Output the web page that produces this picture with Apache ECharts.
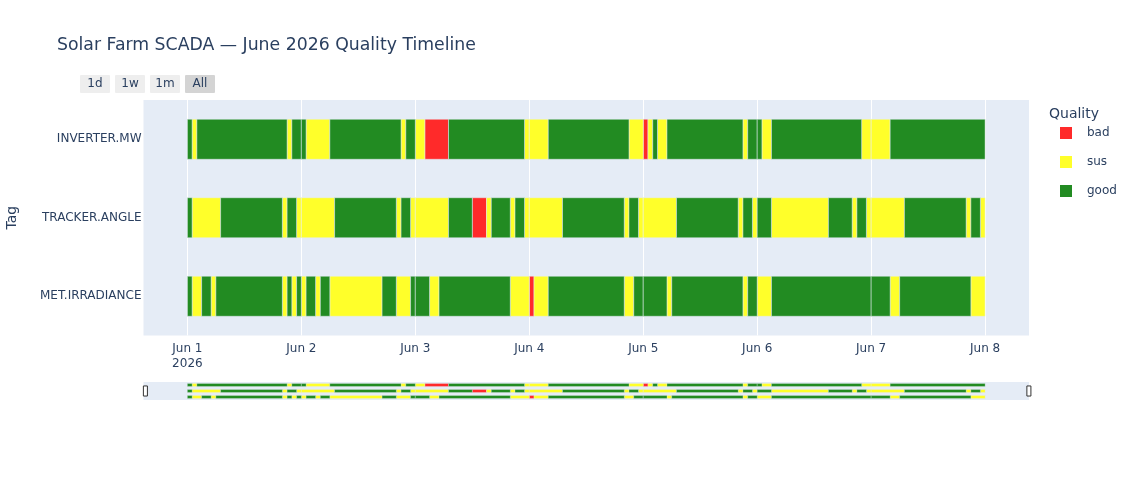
<!DOCTYPE html>
<html>
<head>
<meta charset="utf-8">
<title>Solar Farm SCADA — June 2026 Quality Timeline</title>
<script src="https://cdn.jsdelivr.net/npm/echarts@6/dist/echarts.min.js"></script>
<style>
  html, body { margin: 0; padding: 0; background: #fff; }
  #chart { width: 1133px; height: 480px; }
</style>
</head>
<body>
<div id="chart"></div>
<script>
const FONT = '"DejaVu Sans", Verdana, Arial, sans-serif';
const INK = '#2a3f5f';

const tags = ['INVERTER.MW', 'TRACKER.ANGLE', 'MET.IRRADIANCE'];
const qualities = ['bad', 'sus', 'good'];
const qualityColors = { bad: '#ff2a2a', sus: '#ffff2a', good: '#228b22' };

// segment edges in hours since 2026-06-01 00:00, one quality per segment
const inverterEdges = [0, 1, 2, 21, 22, 25, 30, 45, 46, 48, 50, 55, 71, 76, 93, 96, 97, 98, 99, 101, 117, 118, 121, 123, 142, 148, 168];
const inverterQuality = ['good', 'sus', 'good', 'sus', 'good', 'sus', 'good', 'sus', 'good', 'sus', 'bad', 'good', 'sus',
  'good', 'sus', 'bad', 'sus', 'good', 'sus', 'good', 'sus', 'good', 'sus', 'good', 'sus', 'good'];

const trackerEdges = [0, 1, 7, 20, 21, 23, 31, 44, 45, 47, 55, 60, 63, 64, 68, 69, 71, 79, 92, 93, 95, 103, 116, 117, 119, 120,
  123, 135, 140, 141, 143, 151, 164, 165, 167, 168];
const trackerQuality = ['good', 'sus', 'good', 'sus', 'good', 'sus', 'good', 'sus', 'good', 'sus', 'good', 'bad', 'sus',
  'good', 'sus', 'good', 'sus', 'good', 'sus', 'good', 'sus', 'good', 'sus', 'good', 'sus', 'good', 'sus', 'good', 'sus',
  'good', 'sus', 'good', 'sus', 'good', 'sus'];

const metEdges = [0, 1, 3, 5, 6, 20, 21, 22, 23, 24, 25, 27, 28, 30, 41, 44, 47, 51, 53, 68, 72, 73, 76, 92, 94, 101, 102,
  117, 118, 120, 123, 148, 150, 165, 168];
const metQuality = ['good', 'sus', 'good', 'sus', 'good', 'sus', 'good', 'sus', 'good', 'sus', 'good', 'sus', 'good', 'sus',
  'good', 'sus', 'good', 'sus', 'good', 'sus', 'bad', 'sus', 'good', 'sus', 'good', 'sus', 'good', 'sus', 'good', 'sus',
  'good', 'sus', 'good', 'sus'];

const dayTicks = [0, 24, 48, 72, 96, 120, 144, 168];
const dayLabels = ['Jun 1\n2026', 'Jun 2', 'Jun 3', 'Jun 4', 'Jun 5', 'Jun 6', 'Jun 7', 'Jun 8'];
const xMin = -9.24;
const xMax = 177.24;

const rangeButtons = ['1d', '1w', '1m', 'All'];

// rows -> per-quality bar lists, split at midnight like the source export
const rows = [
  [inverterEdges, inverterQuality],
  [trackerEdges, trackerQuality],
  [metEdges, metQuality]
];
const bars = { bad: [], sus: [], good: [] };
rows.forEach(([edges, quality], row) => {
  for (let i = 0; i < quality.length; i++) {
    let start = edges[i];
    const end = edges[i + 1];
    dayTicks.forEach(d => {
      if (d > start && d < end) {
        bars[quality[i]].push([row, start, d]);
        start = d;
      }
    });
    bars[quality[i]].push([row, start, end]);
  }
});

function barRenderer(ratio, stroke) {
  return function (params, api) {
    const row = api.value(0);
    const a = api.coord([api.value(1), row]);
    const b = api.coord([api.value(2), row]);
    const h = api.size([0, 1])[1] * ratio;
    const shape = echarts.graphic.clipRectByRect(
      { x: a[0], y: a[1] - h / 2, width: b[0] - a[0], height: h },
      { x: params.coordSys.x, y: params.coordSys.y, width: params.coordSys.width, height: params.coordSys.height }
    );
    return shape && {
      type: 'rect',
      shape: shape,
      style: api.style({ stroke: stroke, lineWidth: 0.5 })
    };
  };
}

const chart = echarts.init(document.getElementById('chart'));

const mainSeries = qualities.map(q => ({
  name: q,
  type: 'custom',
  xAxisIndex: 0,
  yAxisIndex: 0,
  renderItem: barRenderer(0.51, '#e5ecf6'),
  itemStyle: { color: qualityColors[q] },
  encode: { x: [1, 2], y: 0 },
  data: bars[q]
}));

const miniSeries = qualities.map(q => ({
  name: q,
  type: 'custom',
  xAxisIndex: 1,
  yAxisIndex: 1,
  silent: true,
  renderItem: barRenderer(0.5, 'rgba(229,236,246,0.6)'),
  itemStyle: { color: qualityColors[q] },
  encode: { x: [1, 2], y: 0 },
  data: bars[q]
}));

const btnX = [80, 115, 150, 185];
const buttons = rangeButtons.map((label, i) => ({
  type: 'group',
  left: btnX[i],
  top: 75,
  onclick: () => {
    const span = { '1d': 24, '1w': 168, '1m': 720 }[label];
    if (!span) chart.dispatchAction({ type: 'dataZoom', dataZoomIndex: 0, start: 0, end: 100 });
    else chart.dispatchAction({ type: 'dataZoom', dataZoomIndex: 0, startValue: Math.max(xMin, 168 - span), endValue: 168 });
  },
  children: [
    {
      type: 'rect',
      shape: { x: 0, y: 0, width: 30, height: 18, r: 1 },
      style: { fill: label === 'All' ? '#d4d4d4' : '#eeeeee' }
    },
    {
      type: 'text',
      x: 15,
      y: 9,
      style: { text: label, fill: INK, font: '12px ' + FONT, align: 'center', verticalAlign: 'middle' }
    }
  ]
}));

chart.setOption({
  backgroundColor: '#fff',
  textStyle: { fontFamily: FONT },
  title: [
    {
      text: 'Solar Farm SCADA — June 2026 Quality Timeline',
      left: 57,
      top: 37,
      padding: 0,
      textStyle: { fontFamily: FONT, fontSize: 17.3, fontWeight: 'normal', color: INK }
    },
    {
      text: 'Quality',
      left: 1049,
      top: 107,
      padding: 0,
      textStyle: { fontFamily: FONT, fontSize: 14, fontWeight: 'normal', color: INK }
    }
  ],
  legend: {
    orient: 'vertical',
    left: 1060,
    top: 127,
    padding: 0,
    icon: 'rect',
    itemWidth: 12,
    itemHeight: 12,
    itemGap: 17,
    data: qualities,
    textStyle: { fontFamily: FONT, fontSize: 12, color: INK, padding: [0, 0, 0, 10] }
  },
  graphic: buttons,
  grid: [
    { left: 143.5, right: 104, top: 100, height: 235.5, show: true, backgroundColor: '#e5ecf6', borderWidth: 0, outerBoundsMode: 'none' },
    { left: 143.5, right: 104, top: 382, height: 18, show: true, backgroundColor: '#e5ecf6', borderWidth: 0, outerBoundsMode: 'none' }
  ],
  xAxis: [
    {
      type: 'value',
      gridIndex: 0,
      min: xMin,
      max: xMax,
      axisLine: { show: false },
      axisTick: { show: false, customValues: dayTicks },
      axisLabel: {
        customValues: dayTicks,
        formatter: v => dayLabels[dayTicks.indexOf(v)] || '',
        color: INK,
        fontSize: 12,
        fontFamily: FONT,
        lineHeight: 15,
        margin: 6
      },
      splitLine: { show: true, lineStyle: { color: '#fff', width: 1 } }
    },
    {
      type: 'value',
      gridIndex: 1,
      min: xMin,
      max: xMax,
      show: false,
      splitLine: { show: false }
    }
  ],
  yAxis: [
    {
      type: 'category',
      gridIndex: 0,
      data: tags,
      inverse: true,
      name: 'Tag',
      nameLocation: 'middle',
      nameGap: 124,
      nameTextStyle: { fontFamily: FONT, fontSize: 14, color: INK },
      axisLine: { show: false },
      axisTick: { show: false },
      splitLine: { show: false },
      axisLabel: { color: INK, fontSize: 12, fontFamily: FONT, margin: 2 }
    },
    {
      type: 'category',
      gridIndex: 1,
      data: tags,
      inverse: true,
      show: false
    }
  ],
  dataZoom: [
    {
      type: 'slider',
      xAxisIndex: 0,
      filterMode: 'none',
      left: 143.5,
      right: 104,
      top: 382,
      height: 18,
      start: 0,
      end: 100,
      showDetail: false,
      showDataShadow: false,
      brushSelect: false,
      backgroundColor: 'rgba(0,0,0,0)',
      borderColor: 'rgba(0,0,0,0)',
      fillerColor: 'rgba(0,0,0,0)',
      dataBackground: { lineStyle: { opacity: 0 }, areaStyle: { opacity: 0 } },
      selectedDataBackground: { lineStyle: { opacity: 0 }, areaStyle: { opacity: 0 } },
      moveHandleSize: 0,
      moveHandleStyle: { opacity: 0 },
      handleIcon: 'path://M0,0 L4,0 L4,10 L0,10 Z',
      handleSize: '56%',
      handleStyle: { color: '#fff', borderColor: '#333', borderWidth: 1 }
    }
  ],
  series: mainSeries.concat(miniSeries)
});
</script>
</body>
</html>
